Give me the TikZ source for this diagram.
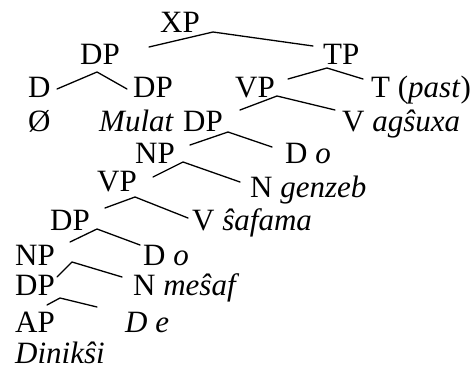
\documentclass[tikz,border=0pt]{standalone}
\usepackage{fontspec}
\setmainfont{Liberation Serif}
\begin{document}
\begin{tikzpicture}[x=1pt,y=-1pt,
  lbl/.style={inner sep=0pt,anchor=base west,font=\fontsize{31}{35}\selectfont},
  branch/.style={line width=1.3pt,line cap=round}]
\useasboundingbox (0,0) rectangle (474,369);
% category and word labels
\node[lbl] (xp)    at (160,33)  {XP};
\node[lbl] (dpA)   at (80,65)   {DP};
\node[lbl] (tp)    at (323,65)  {TP};
\node[lbl] (dA)    at (28,98)   {D};
\node[lbl] (dpB)   at (133,98)  {DP};
\node[lbl] (vpA)   at (235,97)  {VP};
\node[lbl] (t)     at (371,98)  {T (\textit{past})};
\node[lbl] (null)  at (28,131)  {Ø};
\node[lbl] (mulat) at (99,131)  {\textit{Mulat}};
\node[lbl] (dpC)   at (183,131) {DP};
\node[lbl] (vA)    at (342,131) {V \textit{agŝuxa}};
\node[lbl] (npA)   at (135,163) {NP};
\node[lbl] (dB)    at (285,163) {D \textit{o}};
\node[lbl] (vpB)   at (97,191)  {VP};
\node[lbl] (nA)    at (250,197) {N \textit{genzeb}};
\node[lbl] (dpD)   at (50,230)  {DP};
\node[lbl] (vB)    at (192,230) {V \textit{ŝafama}};
\node[lbl] (npB)   at (15,265)  {NP};
\node[lbl] (dC)    at (143,265) {D \textit{o}};
\node[lbl] (dpE)   at (15,295)  {DP};
\node[lbl] (nB)    at (133,295) {N \textit{meŝaf}};
\node[lbl] (ap)    at (15,332)  {AP};
\node[lbl] (dD)    at (125,332) {\textit{D e}};
\node[lbl] (dinik) at (15,363)  {\textit{Dinikŝi}};
% branch points and branch ends
\coordinate (xpTop) at (213,32);  \coordinate (xpL) at (149,47);  \coordinate (xpR) at (313,46);
\coordinate (dpATop) at (97,72);  \coordinate (dpAL) at (57,89);  \coordinate (dpAR) at (127,89);
\coordinate (tpTop) at (327,68);  \coordinate (tpL) at (288,79);  \coordinate (tpR) at (363,79);
\coordinate (vpATop) at (277,96); \coordinate (vpAL) at (240,110); \coordinate (vpAR) at (335,110);
\coordinate (dpCTop) at (228,132); \coordinate (dpCL) at (190,145); \coordinate (dpCR) at (272,147);
\coordinate (npATop) at (183,162); \coordinate (npAL) at (153,177); \coordinate (npAR) at (240,182);
\coordinate (vpBTop) at (135,197); \coordinate (vpBL) at (105,208); \coordinate (vpBR) at (188,218);
\coordinate (dpDTop) at (97,229); \coordinate (dpDL) at (70,242); \coordinate (dpDR) at (140,245);
\coordinate (npBTop) at (72,262); \coordinate (npBL) at (57,277); \coordinate (npBR) at (122,277);
\coordinate (dpETop) at (60,298); \coordinate (dpEL) at (47,305); \coordinate (dpER) at (97,307);
% branches
\draw[branch] (xpL) -- (xpTop) -- (xpR);
\draw[branch] (dpAL) -- (dpATop) -- (dpAR);
\draw[branch] (tpL) -- (tpTop) -- (tpR);
\draw[branch] (vpAL) -- (vpATop) -- (vpAR);
\draw[branch] (dpCL) -- (dpCTop) -- (dpCR);
\draw[branch] (npAL) -- (npATop) -- (npAR);
\draw[branch] (vpBL) -- (vpBTop) -- (vpBR);
\draw[branch] (dpDL) -- (dpDTop) -- (dpDR);
\draw[branch] (npBL) -- (npBTop) -- (npBR);
\draw[branch] (dpEL) -- (dpETop) -- (dpER);
\end{tikzpicture}
\end{document}
